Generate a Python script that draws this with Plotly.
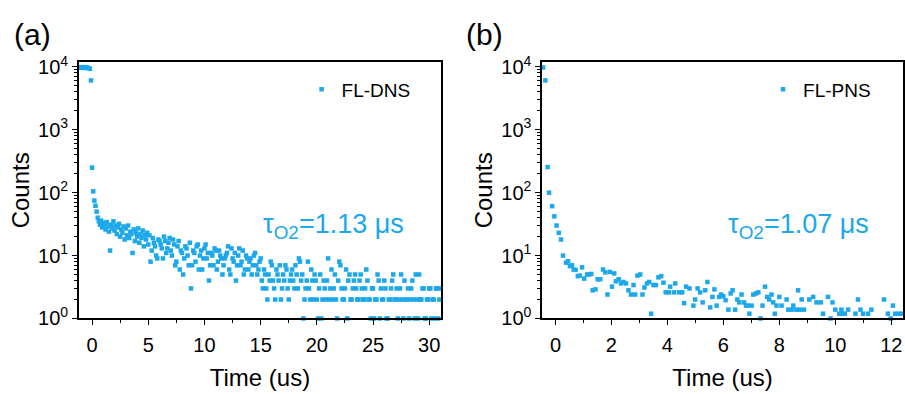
import plotly.graph_objects as go

# ---------------- data: panel (a) FL-DNS ----------------
time_a = [
    -1.2, -1.1, -1.0, -0.9, -0.8, -0.7, -0.6, -0.5, -0.4, -0.3,
    -0.2, -0.1, 0.0, 0.1, 0.2, 0.3, 0.4, 0.5, 0.6, 0.7,
    0.8, 0.9, 1.0, 1.1, 1.2, 1.3, 1.4, 1.5, 1.6, 1.7,
    1.8, 1.9, 2.0, 2.1, 2.2, 2.3, 2.4, 2.5, 2.6, 2.7,
    2.8, 2.9, 3.0, 3.1, 3.2, 3.3, 3.4, 3.5, 3.6, 3.7,
    3.8, 3.9, 4.0, 4.1, 4.2, 4.3, 4.4, 4.5, 4.6, 4.7,
    4.8, 4.9, 5.0,
    5.2, 5.4, 5.6, 5.8, 6.0, 6.2, 6.4, 6.6, 6.8, 7.0, 7.2, 7.4, 7.6, 7.8, 8.0,
    8.2, 8.4, 8.6, 8.8, 9.0, 9.2, 9.4, 9.6, 9.8, 10.0, 10.2, 10.4, 10.6, 10.8, 11.0,
    11.2, 11.4, 11.6, 11.8, 12.0, 12.2, 12.4, 12.6, 12.8, 13.0, 13.2, 13.4, 13.6, 13.8, 14.0,
    14.2, 14.4, 14.6, 14.8, 15.0, 15.2, 15.4, 15.6, 15.8, 16.0, 16.2, 16.4, 16.6, 16.8, 17.0,
    17.2, 17.4, 17.6, 17.8, 18.0, 18.2, 18.4, 18.6, 18.8, 19.0, 19.2, 19.4, 19.6, 19.8, 20.0,
    20.2, 20.4, 20.6, 20.8, 21.0, 21.2, 21.4, 21.6, 21.8, 22.0, 22.2, 22.4, 22.6, 22.8, 23.0,
    23.2, 23.4, 23.6, 23.8, 24.0, 24.2, 24.4, 24.6, 24.8, 25.0, 25.2, 25.4, 25.6, 25.8, 26.0,
    26.2, 26.4, 26.6, 26.8, 27.0, 27.2, 27.4, 27.6, 27.8, 28.0, 28.2, 28.4, 28.6, 28.8, 29.0,
    29.2, 29.4, 29.6, 29.8, 30.0, 30.2, 30.4, 30.6, 30.8, 31.0,
]
counts_a = [
    9800, 9900, 9700, 9900, 9800, 9600, 9900, 9800, 9700, 9500,
    9300, 6100, 250, 105, 75, 62, 50, 40, 35, 31,
    36, 28, 33, 30, 26, 34, 29, 24, 12, 31,
    27, 35, 25, 30, 22, 28, 32, 20, 26, 23,
    29, 18, 27, 21, 30, 19, 24, 22, 11, 26,
    17, 23, 20, 27, 16, 22, 19, 25, 14, 21,
    18, 23, 15,
    8, 19, 14, 9, 17, 13, 20, 11, 16, 12, 18, 7, 14, 6, 11,
    9, 13, 7, 3, 12, 8, 15, 10, 6, 13, 9, 4, 11, 7, 12,
    8, 10, 5, 9, 11, 6, 13, 8, 4, 10, 7, 12, 6, 9, 8,
    5, 10, 7, 6, 9, 3, 5, 2, 4, 7, 3, 6, 4, 2, 5,
    7, 3, 4, 6, 3, 5, 9, 4, 1, 3, 8, 2, 4, 5, 2,
    3, 1, 4, 2, 9, 3, 2, 5, 1, 8, 3, 2, 6, 4, 2,
    3, 5, 2, 4, 3, 2, 6, 2, 1, 3, 2, 5, 1, 2, 4,
    1, 2, 3, 5, 2, 1, 3, 2, 4, 2, 1, 3, 2, 5, 1,
    2, 3, 1, 2, 3, 1, 2, 3, 1, 3,
]
# interleaved channels (odd tenths) (a)
time_a_odd = [
    5.1, 5.3, 5.5, 5.7, 5.9, 6.1, 6.3, 6.5, 6.7, 6.9,
    7.1, 7.3, 7.5, 7.7, 7.9, 8.1, 8.3, 8.5, 8.7, 8.9,
    9.1, 9.3, 9.5, 9.7, 9.9, 10.1, 10.3, 10.5, 10.7, 10.9,
    11.1, 11.3, 11.5, 11.7, 11.9, 12.1, 12.3, 12.5, 12.7, 12.9,
    13.1, 13.3, 13.5, 13.7, 13.9, 14.1, 14.3, 14.5, 14.7, 14.9,
    15.1, 15.3, 15.5, 15.7, 15.9, 16.1, 16.3, 16.5, 16.7, 16.9,
    17.1, 17.3, 17.5, 17.7, 17.9, 18.1, 18.3, 18.5, 18.7, 18.9,
    19.1, 19.3, 19.5, 19.7, 19.9, 20.1, 20.3, 20.5, 20.7, 20.9,
    21.1, 21.3, 21.5, 21.7, 21.9, 22.1, 22.3, 22.5, 22.7, 22.9,
    23.1, 23.3, 23.5, 23.7, 23.9, 24.1, 24.3, 24.5, 24.7, 24.9,
    25.1, 25.3, 25.5, 25.7, 25.9, 26.1, 26.3, 26.5, 26.7, 26.9,
    27.1, 27.3, 27.5, 27.7, 27.9, 28.1, 28.3, 28.5, 28.7, 28.9,
    29.1, 29.3, 29.5, 29.7, 29.9, 30.1, 30.3, 30.5, 30.7, 30.9,
]
counts_a_odd = [
    21, 12, 16, 10, 18, 15, 9, 17, 13, 19,
    10, 15, 8, 17, 12, 5, 14, 10, 16, 7,
    11, 14, 6, 12, 9, 15, 11, 7, 10, 13,
    6, 12, 9, 7, 10, 14, 5, 9, 11, 7,
    13, 8, 5, 10, 6, 9, 7, 11, 5, 8,
    4, 6, 3, 5, 8, 4, 2, 5, 7, 3,
    4, 6, 2, 5, 4, 7, 3, 8, 5, 2,
    4, 3, 6, 2, 4, 1, 5, 2, 3, 4,
    2, 6, 3, 2, 4, 7, 2, 3, 1, 5,
    2, 4, 3, 2, 5, 2, 3, 4, 2, 3,
    1, 2, 4, 3, 2, 3, 1, 2, 4, 2,
    3, 2, 5, 1, 2, 3, 2, 4, 1, 2,
    5, 2, 3, 1, 2, 3, 2, 1, 3, 2,
]

# ---------------- data: panel (b) FL-PNS ----------------
time_b = [
    -0.44, -0.36, -0.28, -0.23, -0.12, -0.04, 0.04, 0.12, 0.20, 0.27,
    0.38, 0.45, 0.52, 0.59, 0.65, 0.72, 0.80, 0.87, 0.95, 1.03,
    1.13, 1.20, 1.28, 1.33, 1.43, 1.51, 1.60, 1.70, 1.78, 1.86,
    1.94, 2.02, 2.10, 2.16, 2.26, 2.34, 2.43, 2.52, 2.61, 2.70,
    2.79, 2.85, 2.93, 3.03, 3.11, 3.18, 3.27, 3.35, 3.42, 3.50,
    3.59, 3.68, 3.78, 3.86, 3.94, 4.06, 4.10, 4.24, 4.28, 4.42,
    4.53, 4.60, 4.67, 4.79, 4.93, 4.99, 5.08, 5.17, 5.26, 5.35,
    5.43, 5.53, 5.61, 5.68, 5.76, 5.85, 5.92, 6.00, 6.08, 6.18,
    6.26, 6.33, 6.42, 6.50, 6.57, 6.65, 6.74, 6.81, 6.89, 6.93,
    7.01, 7.07, 7.17, 7.25, 7.33, 7.40, 7.49, 7.57, 7.64, 7.72,
    7.78, 7.84, 7.90, 8.00, 8.08, 8.26, 8.32, 8.44, 8.50, 8.61,
    8.67, 8.73, 8.80, 8.88, 9.07, 9.21, 9.33, 9.48, 9.56, 9.74,
    9.83, 9.90, 10.00, 10.14, 10.22, 10.28, 10.34, 10.46, 10.72, 10.81,
    10.90, 10.99, 11.17, 11.29, 11.74, 11.88, 11.98, 12.06, 12.14, 12.26,
    12.38,
]
counts_b = [
    9800, 6100, 255, 100, 61, 42, 30, 23, 18, 10,
    7.7, 8.1, 6.8, 7.0, 6.0, 5.9, 4.7, 4.8, 6.5, 4.3,
    5.0, 5.0, 5.1, 2.8, 2.9, 4.2, 4.2, 6.0, 5.4, 2.4,
    5.5, 3.2, 5.2, 3.9, 4.2, 3.6, 3.8, 3.6, 2.8, 2.4,
    3.4, 2.4, 4.8, 5.0, 2.4, 3.1, 3.6, 3.8, 1.19, 3.4,
    3.4, 4.5, 4.7, 3.7, 2.6, 2.6, 3.2, 2.6, 3.6, 2.6,
    2.6, 1.75, 3.2, 3.0, 1.6, 2.0, 3.0, 2.6, 1.8, 2.8,
    3.8, 1.5, 2.2, 2.9, 1.6, 2.2, 2.4, 2.25, 1.95, 1.38,
    2.5, 2.8, 1.38, 2.0, 1.8, 2.4, 1.8, 1.6, 1.6, 1.19,
    1.6, 2.4, 2.5, 2.6, 1.0, 1.6, 3.2, 2.2, 2.0, 2.4,
    1.8, 1.19, 1.6, 2.2, 1.6, 2.0, 1.38, 1.38, 1.6, 1.38,
    2.8, 1.38, 2.0, 1.38, 2.0, 2.2, 1.8, 1.8, 1.19, 2.2,
    1.0, 1.8, 1.38, 1.19, 1.38, 1.19, 1.19, 1.38, 1.19, 2.0,
    1.38, 1.19, 1.19, 1.38, 2.0, 1.19, 1.0, 1.6, 1.19, 1.19,
    1.19,
]

series_names = ["FL-DNS", "FL-PNS"]
lifetime_labels = ["τ<sub>O2</sub>=1.13 μs", "τ<sub>O2</sub>=1.07 μs"]
panel_labels = ["(a)", "(b)"]
xticks_a = [0, 5, 10, 15, 20, 25, 30]
xminor_a = [2.5, 7.5, 12.5, 17.5, 22.5, 27.5]
xticks_b = [0, 2, 4, 6, 8, 10, 12]
xminor_b = [1, 3, 5, 7, 9, 11]
yticks = [1, 10, 100, 1000, 10000]
yticktext = ["10<sup>0</sup>", "10<sup>1</sup>", "10<sup>2</sup>", "10<sup>3</sup>", "10<sup>4</sup>"]
yminor = [m * d for d in (1, 10, 100, 1000) for m in range(2, 10)]

BLUE = "#1CA8EB"
FONT = "Liberation Sans, Arial, sans-serif"

fig = go.Figure()
fig.add_trace(go.Scatter(
    x=time_a + time_a_odd, y=counts_a + counts_a_odd, mode="markers", name=series_names[0],
    marker=dict(symbol="square", size=4.5, color=BLUE),
    xaxis="x", yaxis="y", legend="legend", cliponaxis=False,
))
fig.add_trace(go.Scatter(
    x=time_b, y=counts_b, mode="markers", name=series_names[1],
    marker=dict(symbol="square", size=4.5, color=BLUE),
    xaxis="x2", yaxis="y2", legend="legend2", cliponaxis=False,
))

axis_common = dict(
    showgrid=False, zeroline=False, showline=True, linecolor="black", linewidth=1.5,
    mirror=True, ticks="outside", ticklen=5, tickwidth=1.3, tickcolor="black",
    tickfont=dict(size=20, color="black", family=FONT),
)
title_font = dict(size=24, color="black", family=FONT)

def xaxis(domain, rng, ticks, minor, anchor):
    return dict(axis_common, domain=domain, range=rng, tickvals=ticks, anchor=anchor,
                ticklabelstandoff=3,
                minor=dict(ticks="outside", ticklen=3, tickwidth=1.2, tickcolor="black", tickvals=minor),
                title=dict(text="Time (us)", font=title_font, standoff=14))

def yaxis(anchor):
    return dict(axis_common, type="log", domain=[0.1726, 0.8579], range=[0, 4.0755],
                tickvals=yticks, ticktext=yticktext, anchor=anchor,
                minor=dict(ticks="outside", ticklen=3, tickwidth=1.0, tickcolor="black", tickvals=yminor),
                title=dict(text="Counts", font=title_font, standoff=2))

fig.update_layout(
    width=905, height=394,
    margin=dict(l=0, r=0, t=0, b=0),
    paper_bgcolor="white", plot_bgcolor="white",
    font=dict(family=FONT, color="black"),
    xaxis=xaxis([0.0873, 0.4884], [-1.18, 31.05], xticks_a, xminor_a, "y"),
    yaxis=yaxis("x"),
    xaxis2=xaxis([0.6003, 1.0], [-0.478, 12.42], xticks_b, xminor_b, "y2"),
    yaxis2=yaxis("x2"),
    legend=dict(x=0.334, y=0.785, xanchor="left", yanchor="middle",
                font=dict(size=19, family=FONT, color="black"), bgcolor="rgba(0,0,0,0)"),
    legend2=dict(x=0.845, y=0.785, xanchor="left", yanchor="middle",
                 font=dict(size=19, family=FONT, color="black"), bgcolor="rgba(0,0,0,0)"),
    showlegend=True,
)

# placement of the lifetime note and panel letter (in pixels of the 905-wide page)
note_left_px = [262, 728]
panel_left_px = [12, 465]
annotations = []
for i in range(2):
    annotations.append(dict(
        text=lifetime_labels[i], x=note_left_px[i] / 905, y=0.42, xref="paper", yref="paper",
        xanchor="left", yanchor="middle", showarrow=False,
        font=dict(size=27, color=BLUE, family=FONT),
    ))
    annotations.append(dict(
        text=panel_labels[i], x=panel_left_px[i] / 905, y=(394 - 27) / 394, xref="paper", yref="paper",
        xanchor="left", yanchor="middle", showarrow=False,
        font=dict(size=30, color="black", family=FONT),
    ))
fig.update_layout(annotations=annotations)

fig.write_html("out.html")
